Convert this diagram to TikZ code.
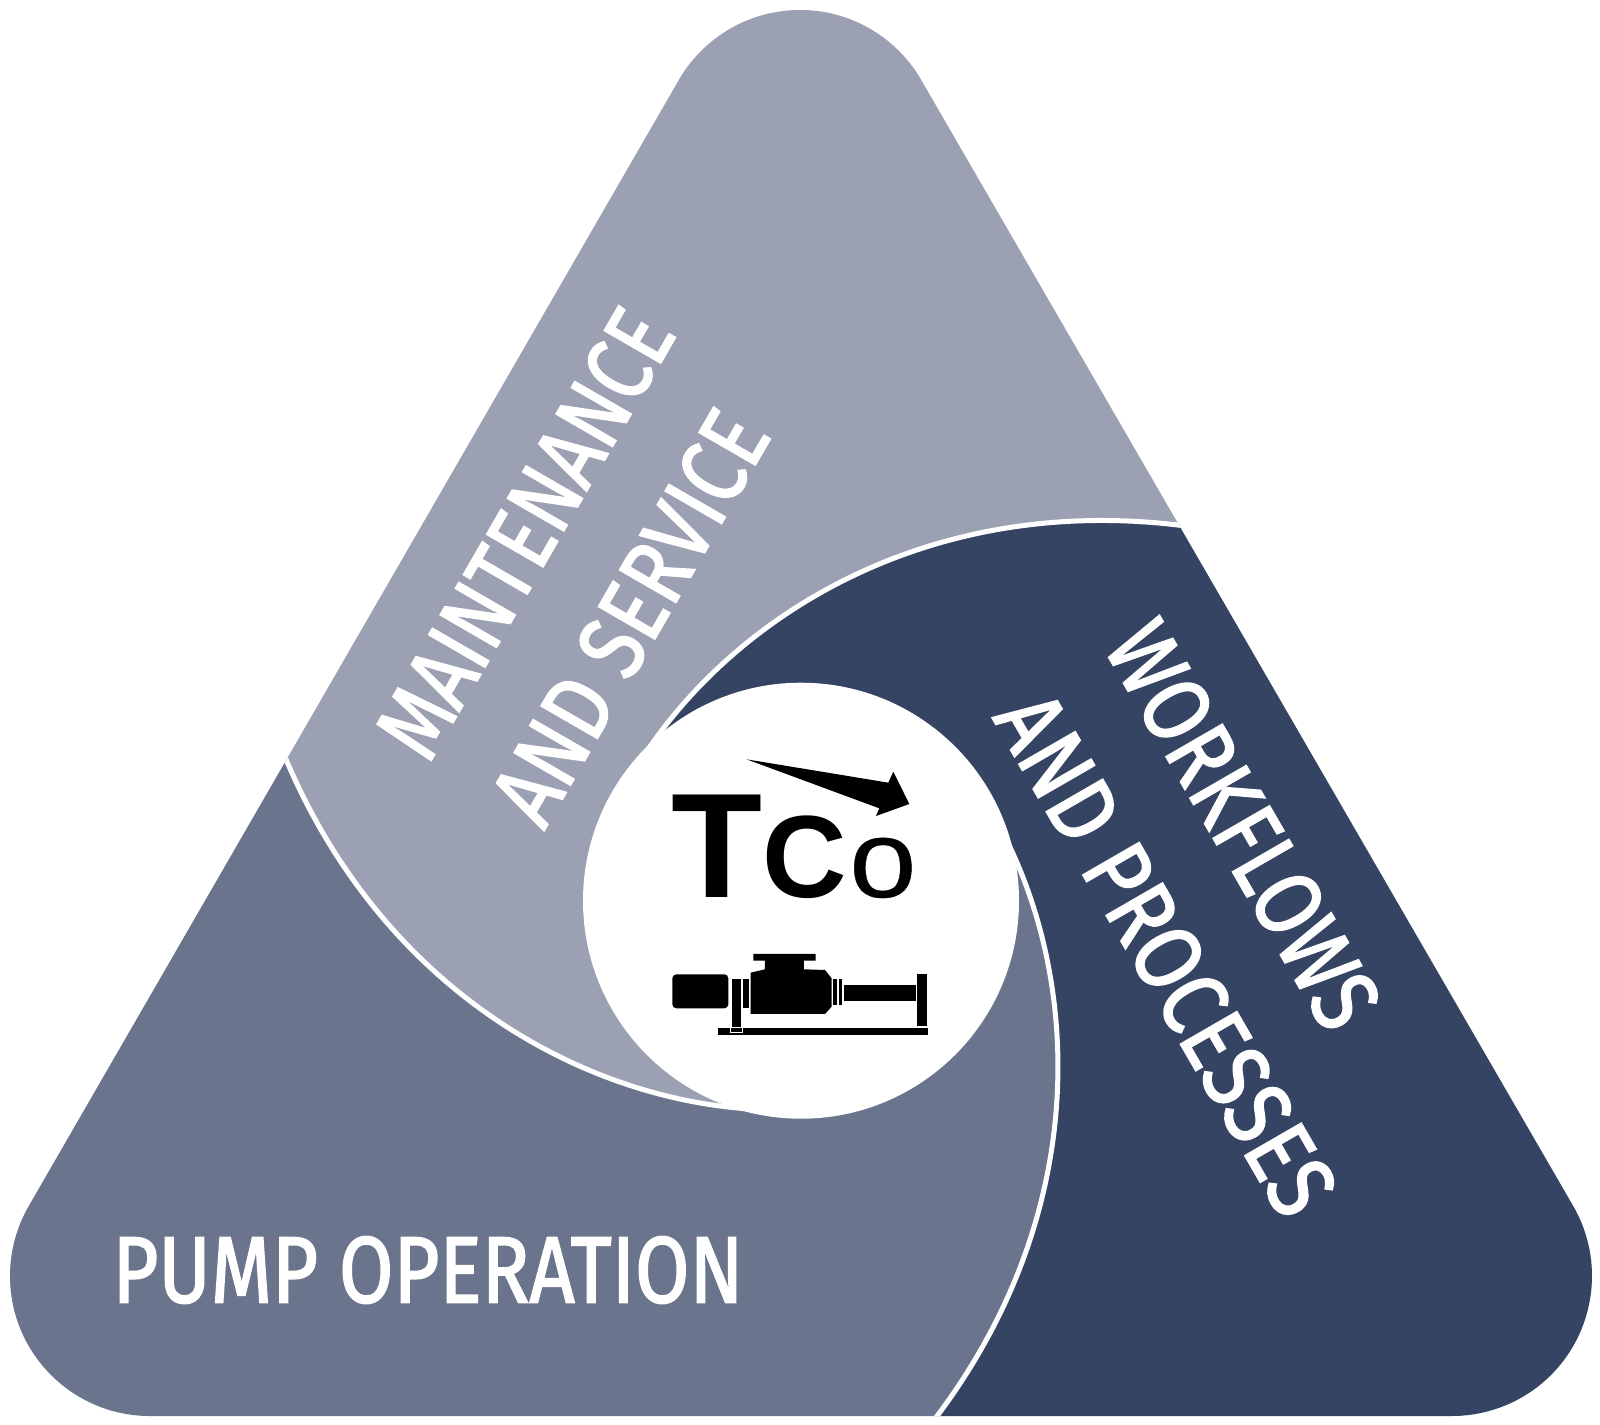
\documentclass[tikz,border=0pt]{standalone}
\usepackage{fontspec}
\setmainfont{Fira Sans}[FakeBold=2]
\newfontfamily\logofont{Liberation Sans}
\newfontfamily\logolight{Liberation Sans}[FakeBold=0.3]
\definecolor{lightseg}{HTML}{9BA0B2}
\definecolor{midseg}{HTML}{6A748C}
\definecolor{darkseg}{HTML}{364463}
\newcommand{\segt}[2][0.84]{\scalebox{#1}[1]{#2}}
\tikzset{
  segtext/.style={text=white,font=\fontsize{94}{94}\selectfont,inner sep=0pt,anchor=center},
  divider/.style={draw=white,line width=5pt},
  ink/.style={fill=black,draw=none},
}
\begin{document}
\begin{tikzpicture}[x=1pt,y=-1pt]
\useasboundingbox (0,0) rectangle (1600,1424);
\fill[white] (0,0) rectangle (1600,1424);
\coordinate (c) at (801,900.7);
\coordinate (A0) at (1009,845);
\coordinate (A1) at (1083,1000);
\coordinate (A2) at (1085,1225);
\coordinate (A3) at (931,1424);
\begin{scope}[rotate around={120:(c)}]
\coordinate (B0) at (1009,845);
\coordinate (B1) at (1083,1000);
\coordinate (B2) at (1085,1225);
\coordinate (B3) at (931,1424);
\end{scope}
\begin{scope}[rotate around={240:(c)}]
\coordinate (C0) at (1009,845);
\coordinate (C1) at (1083,1000);
\coordinate (C2) at (1085,1225);
\coordinate (C3) at (931,1424);
\end{scope}
\begin{scope}
\clip (921.2,80) -- (1573.2,1206) arc[start angle=-30,end angle=90,radius=140]
  -- (150,1416) arc[start angle=90,end angle=210,radius=140]
  -- (678.8,80) arc[start angle=210,end angle=330,radius=140] -- cycle;
\fill[midseg] (c) -- (A0) .. controls (A1) and (A2) .. (A3) -- (931,1700) -- (-300,1700) -- (-300,700) -- (C3) .. controls (C2) and (C1) .. (C0) -- cycle;
\fill[darkseg] (c) -- (B0) .. controls (B1) and (B2) .. (B3) -- (1900,400) -- (1900,1700) -- (931,1700) -- (A3) .. controls (A2) and (A1) .. (A0) -- cycle;
\fill[lightseg] (c) -- (C0) .. controls (C1) and (C2) .. (C3) -- (-300,700) -- (-300,-200) -- (1900,-200) -- (1900,400) -- (B3) .. controls (B2) and (B1) .. (B0) -- cycle;
\draw[divider] (A0) .. controls (A1) and (A2) .. (A3);
\draw[divider] (B0) .. controls (B1) and (B2) .. (B3);
\draw[divider] (C0) .. controls (C1) and (C2) .. (C3);
\end{scope}
\fill[white] (c) circle[radius=218];
\node[segtext] (pump) at (428,1270) {\segt{PUMP OPERATION}};
\node[segtext,rotate=60] (maint) at (525,533) {\segt[0.825]{MAINTENANCE}};
\node[segtext,rotate=60] (serv) at (630,617) {\segt{AND SERVICE}};
\node[segtext,rotate=-60] (work) at (1243,825) {\segt{WORKFLOWS}};
\node[segtext,rotate=-60] (proc) at (1166,954) {\segt[0.855]{AND PROCESSES}};
\node[inner sep=0pt,anchor=base west,font={\logofont\bfseries\fontsize{149}{149}\selectfont}] (logoT) at (671,897) {T};
\node[inner sep=0pt,anchor=base west,font={\logofont\bfseries\fontsize{117}{117}\selectfont}] (logoC) at (762,897) {C};
\node[inner sep=0pt,anchor=base west,font={\logolight\fontsize{110}{110}\selectfont}] (logoO) at (849,897) {\scalebox{1.1}[1]{o}};
\begin{scope}[shift={(640,730)},x=0.3333pt,y=-0.3333pt]
\fill[ink] (320,88) -- (745,158) -- (760,125) -- (808,222) -- (708,258) -- (718,235) -- cycle;
\fill[ink,rounded corners=4pt] (97,733) rectangle (265,835);
\fill[ink] (275,747) rectangle (302,905);
\fill[ink] (310,747) rectangle (328,835);
\fill[ink] (332,728) -- (375,718) -- (375,692) -- (340,692) -- (340,672) -- (527,672) -- (527,692) -- (492,692) -- (492,718) -- (555,720) -- (575,745) -- (575,830) -- (555,852) -- (332,852) -- cycle;
\fill[ink] (580,748) rectangle (592,825);
\fill[ink] (596,748) rectangle (606,825);
\fill[ink] (612,765) rectangle (828,812);
\fill[ink] (832,732) rectangle (862,888);
\fill[ink] (235,893) rectangle (863,915);
\draw[white,line width=0.8pt] (270,893) rectangle (308,908);
\end{scope}
\end{tikzpicture}
\end{document}
